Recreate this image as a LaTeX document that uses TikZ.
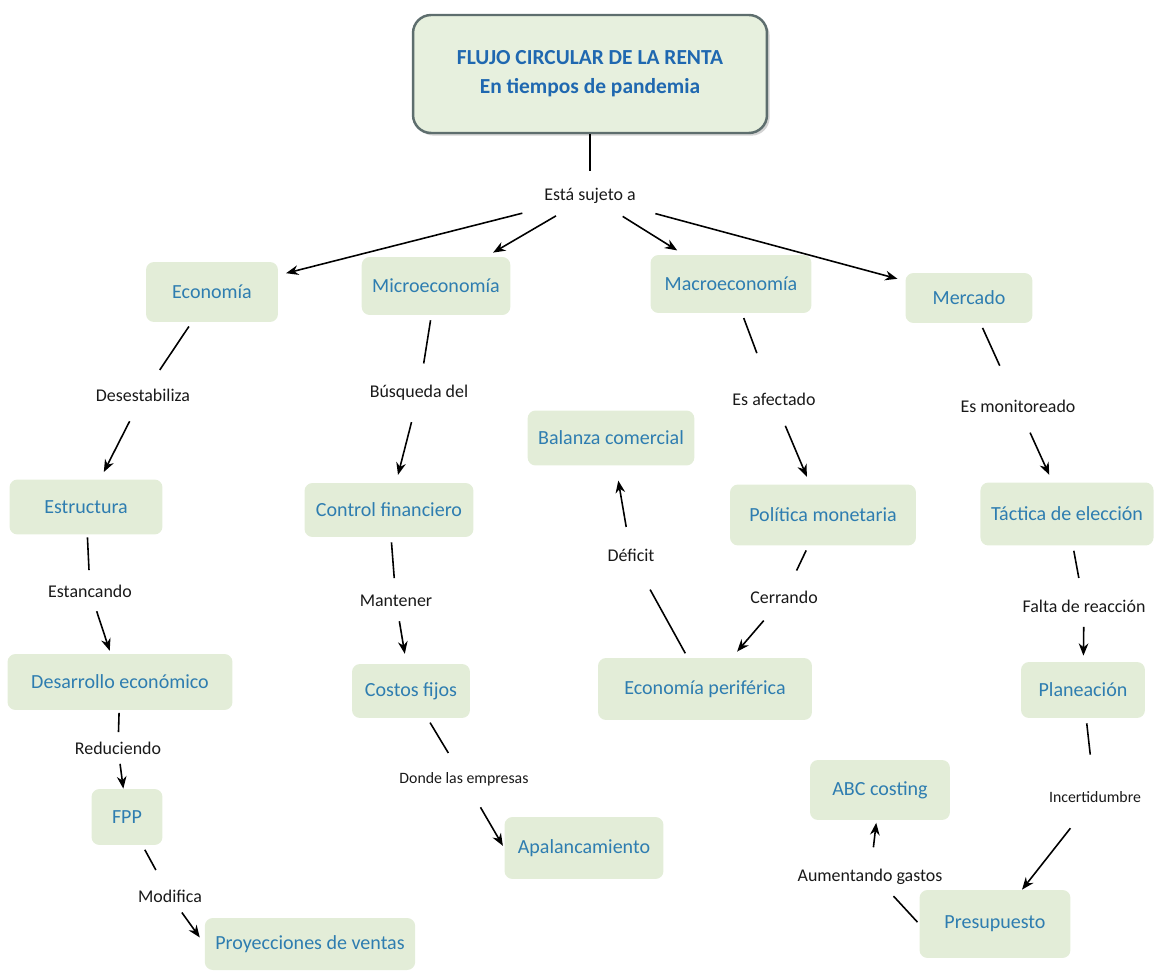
\documentclass[tikz,border=0pt]{standalone}
\usepackage{fontspec}
\setmainfont{Carlito}
\usepackage{tikz}
\usetikzlibrary{arrows.meta,shadows}

\definecolor{cmapfill}{HTML}{E3EDD8}
\definecolor{cmapblue}{HTML}{2E7DB0}
\definecolor{titleblue}{HTML}{1F68B0}
\definecolor{titleline}{HTML}{5E6E6E}

\begin{document}
\begin{tikzpicture}[x=0.02cm,y=-0.02cm]
            \tikzstyle{every node}=[font=\fontsize{10.2}{12}\selectfont]
            \tikzstyle{concept}=[fill=cmapfill,rounded corners=0.16cm,text=cmapblue,font=\fontsize{11.4}{13}\selectfont,inner xsep=6pt,align=center]
            \tikzstyle{phrase}=[inner sep=1pt,text=black!90]
            \tikzstyle{link}=[line width=0.9pt,shorten <=0.1cm,shorten >=0.4cm]
            \tikzstyle{flow}=[line width=0.9pt,-{Stealth[length=7pt,width=5.5pt]},shorten <=0.4cm,shorten >=0.16cm]
            \useasboundingbox (0,0) rectangle (1167,973);
            % title
            \node [concept,draw=titleline,line width=1.4pt,rounded corners=0.36cm,fill=cmapfill!85!white,text=titleblue,font=\bfseries\fontsize{12.2}{16.5}\selectfont,minimum width=7.08cm,minimum height=2.36cm,drop shadow={opacity=0.35,shadow xshift=1.5pt,shadow yshift=-1.5pt}] (titulo) at (590,74) {FLUJO CIRCULAR DE LA RENTA\\En tiempos de pandemia};
            \node [phrase] (sujeto) at (590,196) {Está sujeto a};
            % first level
            \node [concept,minimum width=2.64cm,minimum height=1.2cm] (eco) at (212,292) {Economía};
            \node [concept,minimum width=2.56cm,minimum height=1.16cm] (micro) at (436,286) {Microeconomía};
            \node [concept,minimum width=3.22cm,minimum height=1.16cm] (macro) at (731,284) {Macroeconomía};
            \node [concept,minimum width=2.54cm,minimum height=1.0cm] (merc) at (969,298) {Mercado};
            % economia branch
            \node [phrase] (desest) at (143,395) {Desestabiliza};
            \node [concept,minimum width=3.06cm,minimum height=1.1cm] (estr) at (86,507) {Estructura};
            \node [phrase] (estanc) at (90,591) {Estancando};
            \node [concept,minimum width=4.5cm,minimum height=1.12cm] (desarr) at (120,682) {Desarrollo económico};
            \node [phrase] (reduc) at (118,748) {Reduciendo};
            \node [concept,minimum width=1.42cm,minimum height=1.12cm] (fpp) at (127,817) {FPP};
            \node [phrase] (modif) at (170,896) {Modifica};
            \node [concept,minimum width=4.12cm,minimum height=1.04cm] (proy) at (310,944) {Proyecciones de ventas};
            % microeconomia branch
            \node [phrase] (busq) at (419,393) {Búsqueda del};
            \node [concept,minimum width=3.38cm,minimum height=1.08cm] (ctrl) at (389,510) {Control financiero};
            \node [phrase] (mant) at (396,601) {Mantener};
            \node [concept,minimum width=2.36cm,minimum height=1.08cm] (costos) at (411,691) {Costos fijos};
            \node [phrase,font=\fontsize{9}{11}\selectfont] (donde) at (464,779) {Donde las empresas};
            \node [concept,minimum width=3.18cm,minimum height=1.24cm] (apal) at (584,848) {Apalancamiento};
            % macroeconomia branch
            \node [phrase] (afect) at (774,399) {Es afectado};
            \node [concept,minimum width=3.72cm,minimum height=1.22cm] (polit) at (823,515) {Política monetaria};
            \node [phrase] (cerr) at (784,597) {Cerrando};
            \node [concept,minimum width=4.28cm,minimum height=1.24cm] (periferica) at (705,689) {Economía periférica};
            \node [phrase] (defic) at (631,555) {Déficit};
            \node [concept,minimum width=3.28cm,minimum height=1.1cm] (balanza) at (611,438) {Balanza comercial};
            % mercado branch
            \node [phrase] (monit) at (1018,406) {Es monitoreado};
            \node [concept,minimum width=3.46cm,minimum height=1.26cm] (tactica) at (1067,514) {Táctica de elección};
            \node [phrase] (falta) at (1084,606) {Falta de reacción};
            \node [concept,minimum width=2.48cm,minimum height=1.12cm] (plan) at (1083,690) {Planeación};
            \node [phrase,font=\fontsize{9}{11}\selectfont] (incert) at (1095,797) {Incertidumbre};
            \node [concept,minimum width=3.02cm,minimum height=1.36cm] (presup) at (995,924) {Presupuesto};
            \node [phrase] (aument) at (870,877) {Aumentando gastos};
            \node [concept,minimum width=2.8cm,minimum height=1.2cm] (abc) at (880,790) {ABC costing};
            % connectors
            \draw [link,shorten <=0pt,shorten >=0.3cm] (titulo) -- (sujeto);
            \draw [flow,shorten <=0.6cm] (sujeto) -- (eco);
            \draw [flow] (sujeto) -- (micro);
            \draw [flow] (sujeto) -- (macro);
            \draw [flow,shorten <=0.6cm] (sujeto) -- (merc);
            \draw [link] (eco) -- (desest);
            \draw [flow] (desest) -- (estr);
            \draw [link,shorten <=0.05cm,shorten >=0.25cm] (estr) -- (estanc);
            \draw [flow,shorten <=0.25cm,shorten >=0.06cm] (estanc) -- (desarr);
            \draw [link,shorten <=0.05cm,shorten >=0.15cm] (desarr) -- (reduc);
            \draw [flow,shorten <=0.15cm,shorten >=0pt] (reduc) -- (fpp);
            \draw [link] (fpp) -- (modif);
            \draw [flow,shorten <=0.2cm] (modif) -- (proy.west);
            \draw [link] (micro) -- (busq);
            \draw [flow] (busq) -- (ctrl);
            \draw [link,shorten >=0.3cm] (ctrl) -- (mant);
            \draw [flow,shorten <=0.25cm,shorten >=0.2cm] (mant) -- (costos);
            \draw [link] (costos) -- (donde);
            \draw [flow,shorten <=0.45cm,shorten >=0.05cm] (donde) -- (apal.west);
            \draw [link,shorten >=0.8cm] (macro) -- (afect);
            \draw [flow] (afect) -- (polit);
            \draw [link] (polit) -- (cerr);
            \draw [flow] (cerr) -- (periferica);
            \draw [link,shorten >=0.6cm] (periferica) -- (defic);
            \draw [flow,shorten >=0.3cm] (defic) -- (balanza);
            \draw [link,shorten >=0.7cm] (merc) -- (monit);
            \draw [flow] (monit) -- (tactica);
            \draw [link] (tactica) -- (falta);
            \draw [flow,shorten <=0.25cm,shorten >=0.12cm] (falta) -- (plan);
            \draw [link,shorten >=0.7cm] (plan) -- (incert);
            \draw [flow,shorten <=0.6cm,shorten >=0pt] (incert) -- (presup);
            \draw [link,shorten <=0.05cm,shorten >=0.25cm] (presup.west) -- ([xshift=0.3cm]aument.south);
            \draw [flow,shorten >=0.05cm] (aument) -- (abc);
        \end{tikzpicture}
\end{document}
